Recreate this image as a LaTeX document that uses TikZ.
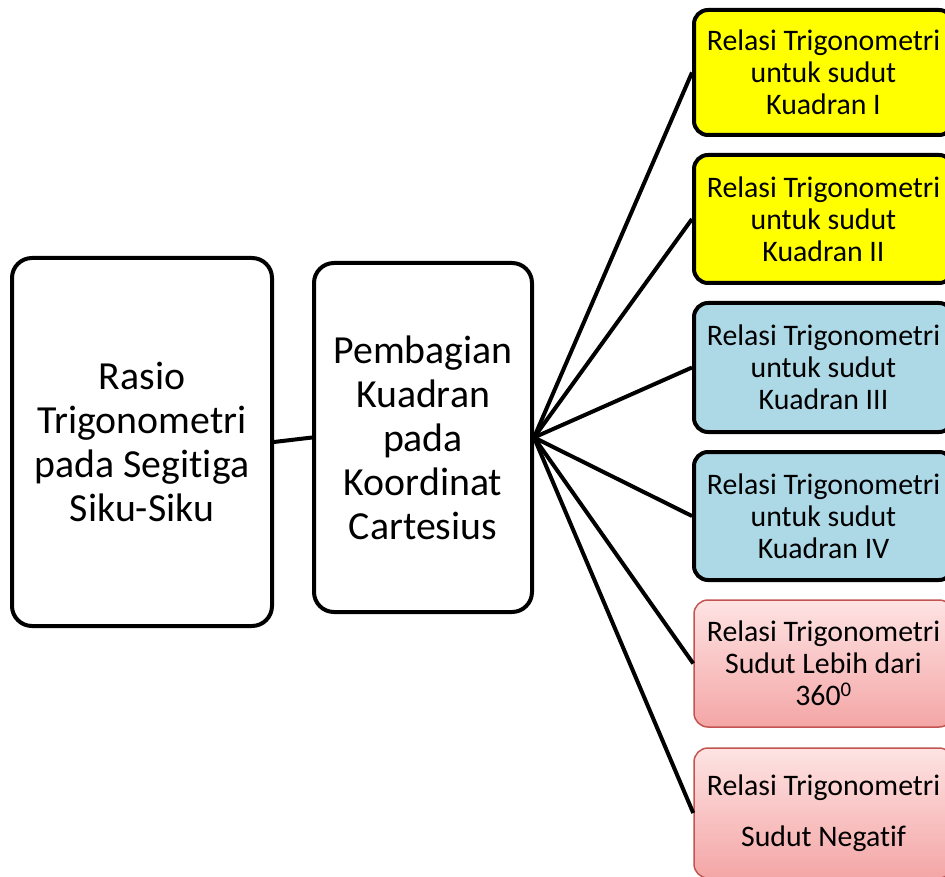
\documentclass[tikz,border=0pt]{standalone}
\usepackage{fontspec}
\setmainfont[Ligatures={NoCommon}]{Carlito}
\usetikzlibrary{positioning}

\definecolor{kuningbox}{rgb}{1.000000, 1.000000, 0.000000}
\definecolor{birubox}{rgb}{0.678000, 0.847000, 0.902000}
\definecolor{merahatas}{rgb}{0.996000, 0.890000, 0.890000}
\definecolor{merahbawah}{rgb}{0.957000, 0.650000, 0.650000}
\definecolor{merahgaris}{rgb}{0.760000, 0.330000, 0.320000}

\tikzset{
  besar/.style={draw=black, line width=4pt, rounded corners=20pt, fill=white,
    align=center, inner sep=0pt,
    font=\fontsize{39.8}{44}\selectfont},
  kecil/.style={draw=black, line width=4pt, rounded corners=14pt,
    align=center, inner sep=0pt, minimum width=259pt,
    font=\fontsize{29.8}{32}\selectfont},
  merah/.style={kecil, draw=merahgaris, line width=1.5pt,
    top color=merahatas, bottom color=merahbawah},
  garis/.style={line width=4pt, black}
}

\begin{document}
\begin{tikzpicture}[x=1pt,y=-1pt]
\clip (0,0) rectangle (945,877);
\useasboundingbox (0,0) rectangle (945,877);
% kotak kiri
\node[besar, minimum width=260pt, minimum height=368pt] (rasio) at (142,442)
  {Rasio\\Trigonometri\\pada Segitiga\\Siku-Siku};
\node[besar, minimum width=218pt, minimum height=349pt] (bagi) at (423,437.5)
  {Pembagian\\Kuadran\\pada\\Koordinat\\Cartesius};
% kotak kanan
\node[kecil, fill=kuningbox, minimum height=125pt] (kuadsatu) at (823.5,72.5)
  {Relasi Trigonometri\\untuk sudut\\Kuadran I};
\node[kecil, fill=kuningbox, minimum height=128pt] (kuaddua) at (823.5,219)
  {Relasi Trigonometri\\untuk sudut\\Kuadran II};
\node[kecil, fill=birubox, minimum height=129pt] (kuadtiga) at (823.5,367.5)
  {Relasi Trigonometri\\untuk sudut\\Kuadran III};
\node[kecil, fill=birubox, minimum height=128pt] (kuadempat) at (823.5,516)
  {Relasi Trigonometri\\untuk sudut\\Kuadran IV};
\node[merah, minimum height=127pt] (lebih) at (823.5,663.5)
  {Relasi Trigonometri\\Sudut Lebih dari\\360\textsuperscript{0}};
\node[merah, minimum height=130pt] (negatif) at (823.5,813)
  {Relasi Trigonometri\\[19pt]Sudut Negatif};
% garis penghubung
\draw[garis] (rasio.east) -- (bagi.west);
\foreach \k in {kuadsatu,kuaddua,kuadtiga,kuadempat,lebih,negatif}
  \draw[garis] (bagi.east) -- (\k.west);
\end{tikzpicture}
\end{document}
